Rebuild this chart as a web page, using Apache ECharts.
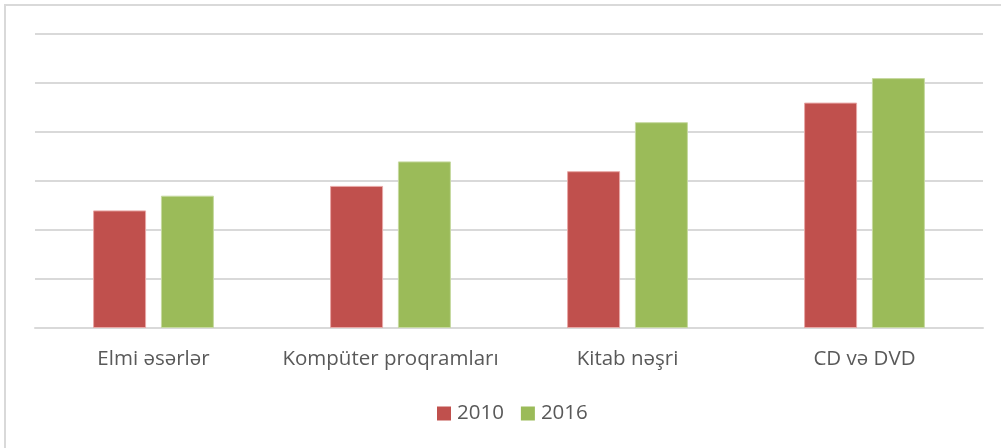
<!DOCTYPE html>
<html>
<head>
<meta charset="utf-8">
<script src="https://cdn.jsdelivr.net/npm/echarts@6/dist/echarts.min.js"></script>
<style>
html,body{margin:0;padding:0;background:#fff;}
#chart{width:1001px;height:448px;}
</style>
</head>
<body>
<div id="chart"></div>
<script>
const categories = ['Elmi əsərlər', 'Kompüter proqramları', 'Kitab nəşri', 'CD və DVD'];
const series2010 = [24, 29, 32, 46];
const series2016 = [27, 34, 42, 51];
const seriesNames = ['2010', '2016'];

const chart = echarts.init(document.getElementById('chart'), null, {renderer: 'canvas'});
const font = '"Open Sans", sans-serif';
chart.setOption({
  animation: false,
  backgroundColor: '#fff',
  graphic: [
    {type: 'polyline', shape: {points: [[5, 448], [5, 5], [1001, 5]]}, style: {stroke: '#d9d9d9', lineWidth: 2, fill: null}}
  ],
  grid: {left: 35, right: 18, top: 34, bottom: 120, containLabel: false},
  legend: {
    data: seriesNames,
    top: 398,
    left: 432,
    itemWidth: 14, itemHeight: 14, itemGap: 17,
    icon: 'rect',
    itemStyle: {borderWidth: 0},
    textStyle: {color: '#595959', fontSize: 20.5, fontFamily: font, padding: [0, 0, 0, 1]}
  },
  xAxis: {
    type: 'category',
    data: categories,
    axisLine: {lineStyle: {color: '#d9d9d9', width: 2}},
    axisTick: {show: false},
    axisLabel: {color: '#595959', fontSize: 20.5, fontFamily: font, margin: 21, interval: 0}
  },
  yAxis: {
    type: 'value',
    min: 0, max: 60, interval: 10,
    axisLabel: {show: false},
    axisLine: {show: false},
    axisTick: {show: false},
    splitLine: {lineStyle: {color: '#d9d9d9', width: 2}}
  },
  series: [
    {name: seriesNames[0], type: 'bar', data: series2010, barWidth: 53, barGap: '28%',
     itemStyle: {color: '#c0504d', borderColor: '#e8a8a6', borderWidth: 1}},
    {name: seriesNames[1], type: 'bar', data: series2016, barWidth: 53,
     itemStyle: {color: '#9bbb59', borderColor: '#c6d9a0', borderWidth: 1}}
  ]
});
</script>
</body>
</html>
